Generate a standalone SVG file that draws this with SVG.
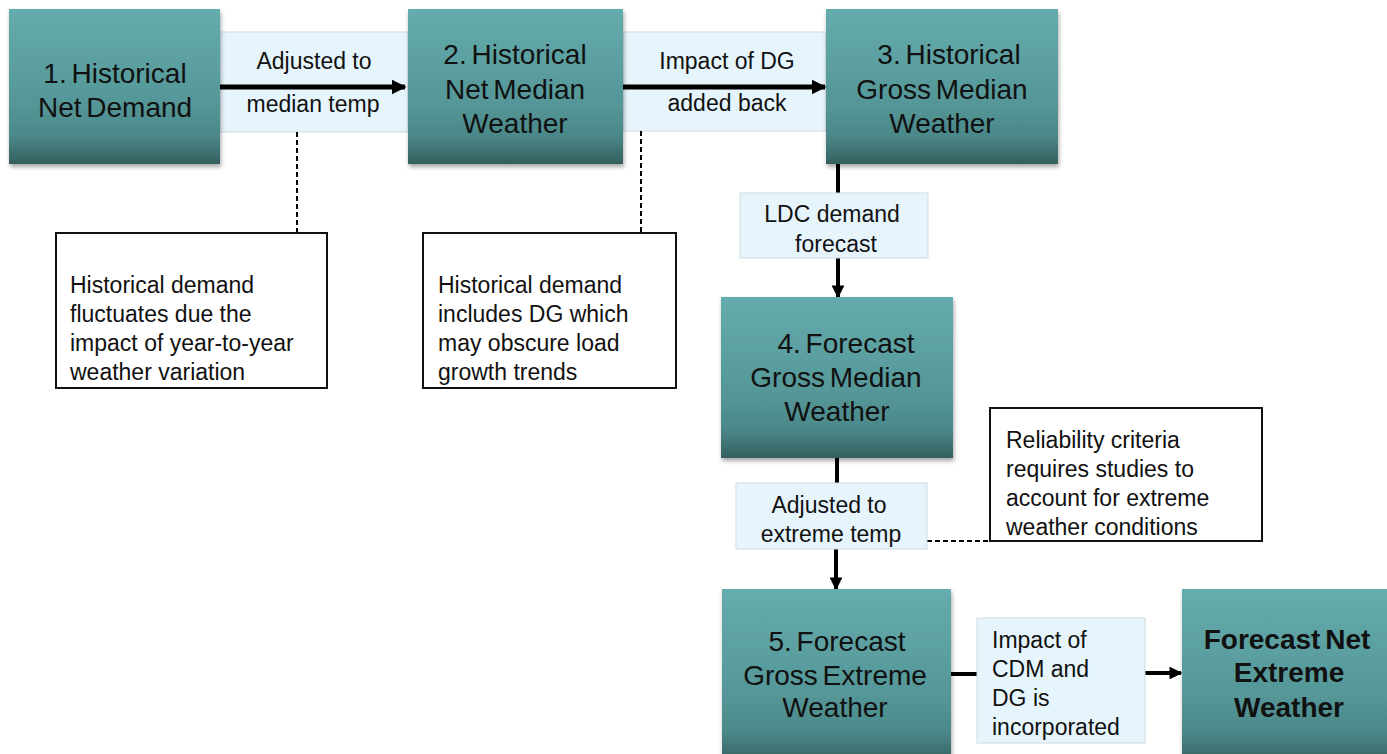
<svg xmlns="http://www.w3.org/2000/svg" width="1387" height="754" viewBox="0 0 1387 754">
<style>
.box{fill:url(#g);filter:url(#sh);}
.t{font-family:"Liberation Sans",Arial,sans-serif;font-size:28px;fill:#111;text-anchor:middle;word-spacing:-3px;}
.tb{font-weight:bold;}
.band{fill:#e6f4fc;stroke:#cfdbe2;stroke-width:1;}
.lab{font-family:"Liberation Sans",Arial,sans-serif;font-size:23px;fill:#111;text-anchor:middle;}
.note{fill:#fff;stroke:#111;stroke-width:2;}
.nt{font-family:"Liberation Sans",Arial,sans-serif;font-size:23px;fill:#111;}
.ln{stroke:#000;fill:none;}
.dash{stroke:#000;stroke-width:2;stroke-dasharray:5 3;fill:none;}
</style>
<defs>
<linearGradient id="g" x1="0" y1="0" x2="0" y2="1">
<stop offset="0" stop-color="#65acad"/>
<stop offset="0.6" stop-color="#559798"/>
<stop offset="0.82" stop-color="#4b8889"/>
<stop offset="1" stop-color="#355f5f"/>
</linearGradient>
<filter id="sh" x="-10%" y="-10%" width="120%" height="125%">
<feDropShadow dx="1" dy="3" stdDeviation="2" flood-color="#000" flood-opacity="0.35"/>
</filter>
<marker id="ah" viewBox="0 0 10 10" refX="9" refY="5" markerWidth="3" markerHeight="3" orient="auto" markerUnits="strokeWidth">
<path d="M0,0 L10,5 L0,10 z" fill="#000"/>
</marker>
<marker id="ah2" viewBox="0 0 10 10" refX="9" refY="5" markerWidth="3.2" markerHeight="3.2" orient="auto" markerUnits="strokeWidth">
<path d="M0,0 L10,5 L0,10 z" fill="#000"/>
</marker>
</defs>
<rect width="1387" height="754" fill="#fff"/>

<g id="bands">
<rect class="band" x="220" y="32" width="188" height="100"/>
<rect class="band" x="623" y="32" width="203" height="99"/>
</g>

<g id="connectors">
<line class="ln" x1="220" y1="87" x2="405" y2="87" stroke-width="5" marker-end="url(#ah)"/>
<line class="ln" x1="623" y1="87" x2="825" y2="87" stroke-width="5" marker-end="url(#ah)"/>
<line class="ln" x1="838" y1="164" x2="838" y2="194" stroke-width="4"/>
<line class="ln" x1="838" y1="258" x2="838" y2="297" stroke-width="4" marker-end="url(#ah2)"/>
<line class="ln" x1="837" y1="458" x2="837" y2="484" stroke-width="4"/>
<line class="ln" x1="836" y1="549" x2="836" y2="589" stroke-width="4" marker-end="url(#ah2)"/>
<line class="ln" x1="951" y1="674" x2="977" y2="674" stroke-width="4"/>
<line class="ln" x1="1145" y1="673" x2="1181" y2="673" stroke-width="4" marker-end="url(#ah2)"/>
<line class="dash" x1="297" y1="132" x2="297" y2="233"/>
<line class="dash" x1="641" y1="131" x2="641" y2="233"/>
<line class="dash" x1="927" y1="541" x2="990" y2="541"/>
</g>

<g id="n1">
<rect class="box" x="9" y="9" width="211" height="155"/>
<text class="t" x="115" y="83">1. Historical</text>
<text class="t" x="115" y="117">Net Demand</text>
</g>
<g id="l1">
<text class="lab" x="314" y="69">Adjusted to</text>
<text class="lab" x="313" y="112">median temp</text>
</g>
<g id="n2">
<rect class="box" x="408" y="9" width="215" height="155"/>
<text class="t" x="515" y="64">2. Historical</text>
<text class="t" x="515" y="99">Net Median</text>
<text class="t" x="515" y="133">Weather</text>
</g>
<g id="l2">
<text class="lab" x="727" y="69">Impact of DG</text>
<text class="lab" x="727" y="111">added back</text>
</g>
<g id="n3">
<rect class="box" x="826" y="9" width="232" height="155"/>
<text class="t" x="949" y="64">3. Historical</text>
<text class="t" x="942" y="99">Gross Median</text>
<text class="t" x="942" y="133">Weather</text>
</g>
<g id="l3">
<rect class="band" x="740" y="193" width="188" height="65"/>
<text class="lab" x="832" y="222">LDC demand</text>
<text class="lab" x="836" y="252">forecast</text>
</g>
<g id="n4">
<rect class="box" x="721" y="297" width="232" height="161"/>
<text class="t" x="846" y="353">4. Forecast</text>
<text class="t" x="836" y="387">Gross Median</text>
<text class="t" x="837" y="421">Weather</text>
</g>
<g id="l4">
<rect class="band" x="736" y="483" width="191" height="66"/>
<text class="lab" x="829" y="513">Adjusted to</text>
<text class="lab" x="831" y="542">extreme temp</text>
</g>
<g id="n5">
<rect class="box" x="722" y="589" width="229" height="175"/>
<text class="t" x="837" y="651">5. Forecast</text>
<text class="t" x="835" y="685">Gross Extreme</text>
<text class="t" x="835" y="717">Weather</text>
</g>
<g id="l5">
<rect class="band" x="977" y="618" width="168" height="125"/>
<text class="nt" x="992" y="648">Impact of</text>
<text class="nt" x="992" y="677">CDM and</text>
<text class="nt" x="992" y="706">DG is</text>
<text class="nt" x="992" y="735">incorporated</text>
</g>
<g id="n6">
<rect class="box" x="1182" y="589" width="220" height="175"/>
<text class="t tb" x="1287" y="649">Forecast Net</text>
<text class="t tb" x="1289" y="682">Extreme</text>
<text class="t tb" x="1289" y="717">Weather</text>
</g>

<g id="note1">
<rect class="note" x="56" y="233" width="271" height="155"/>
<text class="nt" x="70" y="293">Historical demand</text>
<text class="nt" x="70" y="322">fluctuates due the</text>
<text class="nt" x="70" y="351">impact of year-to-year</text>
<text class="nt" x="70" y="380">weather variation</text>
</g>
<g id="note2">
<rect class="note" x="423" y="233" width="253" height="155"/>
<text class="nt" x="438" y="293">Historical demand</text>
<text class="nt" x="438" y="322">includes DG which</text>
<text class="nt" x="438" y="351">may obscure load</text>
<text class="nt" x="438" y="380">growth trends</text>
</g>
<g id="note3">
<rect class="note" x="990" y="408" width="272" height="133"/>
<text class="nt" x="1006" y="448">Reliability criteria</text>
<text class="nt" x="1006" y="477">requires studies to</text>
<text class="nt" x="1006" y="506">account for extreme</text>
<text class="nt" x="1006" y="535">weather conditions</text>
</g>
</svg>
